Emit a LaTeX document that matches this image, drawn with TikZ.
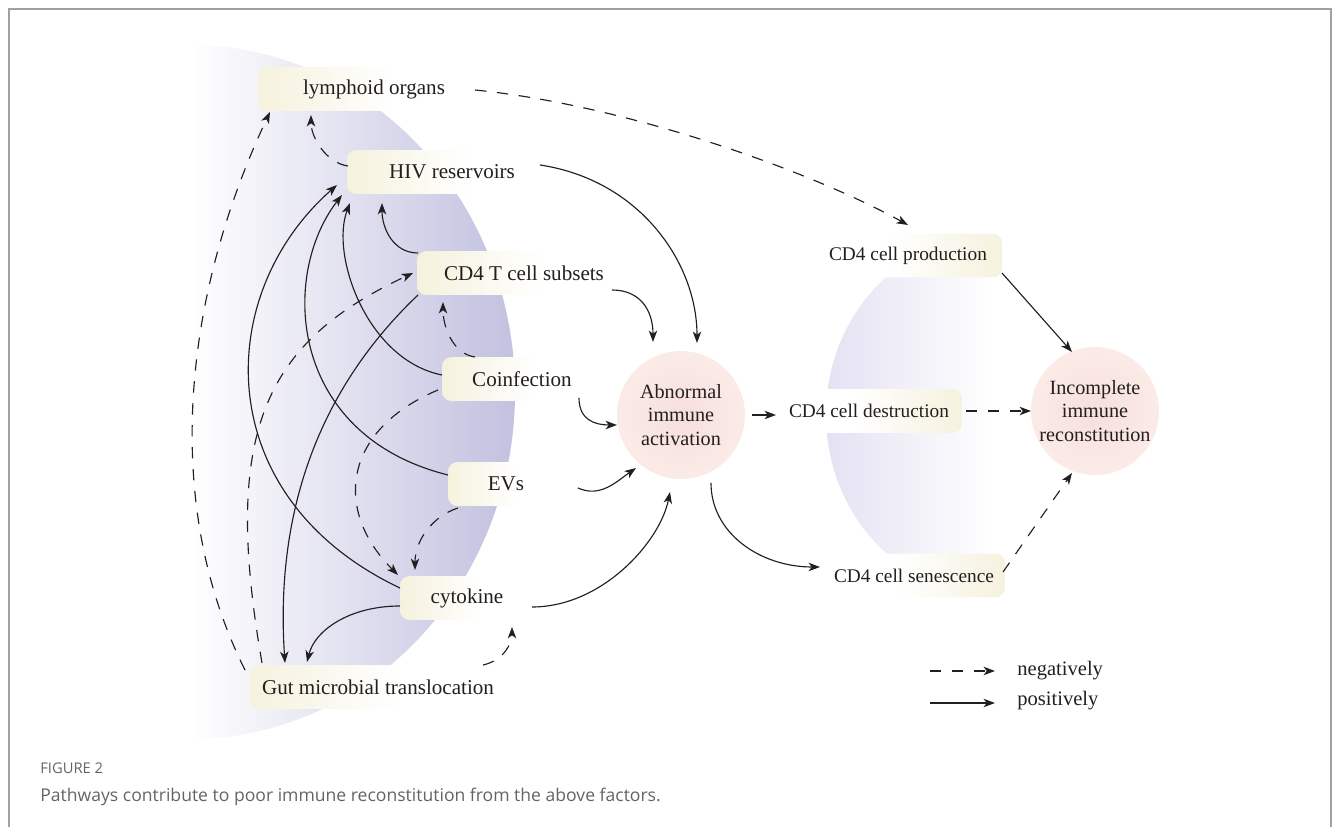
\documentclass[tikz,border=0pt]{standalone}
\usepackage{fontspec}
\setmainfont{Liberation Serif}
\newfontfamily\capfont{Open Sans}
\usetikzlibrary{arrows.meta}

\definecolor{inkc}{RGB}{35,31,32}
\definecolor{facbeige}{RGB}{241,236,207}
\definecolor{lavc}{RGB}{194,193,224}
\definecolor{lavl}{RGB}{228,226,243}
\definecolor{hubin}{RGB}{246,223,220}
\definecolor{hubout}{RGB}{251,235,231}
\definecolor{capc}{RGB}{100,100,100}
\definecolor{framec}{RGB}{160,160,160}

\pgfdeclarehorizontalshading{facfade}{100bp}{color(0bp)=(facbeige); color(12bp)=(facbeige); color(55bp)=(white); color(100bp)=(white)}
\pgfdeclarehorizontalshading{resfade}{100bp}{color(0bp)=(white); color(45bp)=(white); color(88bp)=(facbeige); color(100bp)=(facbeige)}

\begin{document}
\begin{tikzpicture}[x=0.02cm, y=-0.02cm,
	font=\fontsize{11}{13.5}\selectfont, text=inkc,
	fac/.style={rounded corners=5.5pt, shade, shading=facfade, minimum height=0.88cm, inner sep=0pt, font=\fontsize{12}{14}\selectfont},
	res/.style={fac, shading=resfade, font=\fontsize{11}{13.5}\selectfont},
	hub/.style={circle, inner color=hubin, outer color=hubout, minimum size=2.56cm, inner sep=0pt, align=center, font=\fontsize{11.5}{13.5}\selectfont},
	posarrow/.style={draw=inkc, line width=0.65pt, -{Stealth[length=6.5pt, width=4.8pt, inset=1.8pt]}},
	negarrow/.style={posarrow, dash pattern=on 6.5pt off 6pt}]
	\useasboundingbox (0,0) rectangle (1333,827);
	\draw[framec, line width=0.8pt] (9,827) -- (9,9) -- (1331,9) -- (1331,827);
	
	% backgrounds
	\shade[left color=white, right color=lavc] (190,45) arc[start angle=-90, end angle=90, x radius=325, y radius=347] -- cycle;
	\shade[left color=lavl, right color=white] (994,235) arc[start angle=-90, end angle=-270, x radius=168, y radius=180] -- cycle;
	
	% factors
	\node[fac, minimum width=4.64cm] (lym) at (374,89) {lymphoid organs};
	\node[fac, minimum width=4.2cm] (hiv) at (452,172) {HIV reservoirs};
	\node[fac, minimum width=4.28cm] (cdt) at (524,273) {CD4 T cell subsets};
	\node[fac, minimum width=3.2cm] (coi) at (522,379) {Coinfection};
	\node[fac, minimum width=2.32cm] (evs) at (506,484) {EVs};
	\node[fac, minimum width=2.68cm] (cyt) at (467,598) {cytokine};
	\node[fac, minimum width=5.12cm] (gut) at (378,687) {Gut microbial translocation};
	
	\node[hub] (abn) at (681,415) {Abnormal\\immune\\activation};
	\node[res, minimum width=3.76cm] (pro) at (908,255.5) {CD4 cell production};
	\node[res, minimum width=3.72cm] (des) at (869,411) {CD4 cell destruction};
	\node[res, minimum width=3.64cm] (sen) at (914,575.5) {CD4 cell senescence};
	\node[hub] (inc) at (1095,411) {Incomplete\\immune\\reconstitution};
	
	% positively
	\draw[posarrow] ([shift={(88,-7)}]hiv.center) .. controls +(100,15) and +(0,-80) .. ([shift={(16,-72)}]abn.center);
	\draw[posarrow] ([shift={(88,17)}]cdt.center) .. controls +(28,0) and +(0,-32) .. ([shift={(-28,-73)}]abn.center);
	\draw[posarrow] ([shift={(57,19)}]coi.center) .. controls +(0,22) and +(-22,0) .. ([shift={(-64,10)}]abn.center);
	\draw[posarrow] ([shift={(72,4)}]evs.center) .. controls +(22,10) and +(-20,14) .. ([shift={(-45,53)}]abn.center);
	\draw[posarrow] ([shift={(65,9)}]cyt.center) .. controls +(70,0) and +(-10,50) .. ([shift={(-11,77)}]abn.center);
	\draw[posarrow] ([shift={(71,0)}]abn.center) -- ([shift={(-93,4)}]des.center);
	\draw[posarrow] ([shift={(30,68)}]abn.center) .. controls +(0,50) and +(-60,0) .. ([shift={(-94,-8.5)}]sen.center);
	\draw[posarrow] ([shift={(94,17.5)}]pro.center) -- ([shift={(-23,-59)}]inc.center);
	\draw[posarrow] ([shift={(-106,-20)}]cdt.center) .. controls +(-25,0) and +(0,25) .. ([shift={(-70,31)}]hiv.center);
	\draw[posarrow] ([shift={(-80,-4)}]coi.center) .. controls +(-75,-15) and +(-20,52) .. ([shift={(-102,31)}]hiv.center);
	\draw[posarrow] ([shift={(-58,-9)}]evs.center) .. controls +(-160,-40) and +(-62,80) .. ([shift={(-110,23)}]hiv.center);
	\draw[posarrow] ([shift={(-67,-10)}]cyt.center) .. controls +(-190,-90) and +(-125,110) .. ([shift={(-115,13)}]hiv.center);
	\draw[posarrow] ([shift={(-106,22)}]cdt.center) .. controls +(-100,95) and +(-10,-150) .. ([shift={(-93,-24)}]gut.center);
	\draw[posarrow] ([shift={(-67,8)}]cyt.center) .. controls +(-50,0) and +(8,-32) .. ([shift={(-71,-25)}]gut.center);
	
	% negatively
	\draw[negarrow] ([shift={(-133,-17)}]gut.center) .. controls +(-85,-170) and +(-85,180) .. ([shift={(-104,23)}]lym.center);
	\draw[negarrow] ([shift={(-116,-24)}]gut.center) .. controls +(-40,-230) and +(-150,70) .. ([shift={(-111,0)}]cdt.center);
	\draw[negarrow] ([shift={(-84,11)}]coi.center) .. controls +(-95,40) and +(-65,-65) .. ([shift={(-69,-23)}]cyt.center);
	\draw[negarrow] ([shift={(-48,24)}]evs.center) .. controls +(-25,8) and +(0,-30) .. ([shift={(-52,-28)}]cyt.center);
	\draw[negarrow] ([shift={(-47,-22)}]coi.center) .. controls +(-22,-3) and +(0,25) .. ([shift={(-81,29)}]cdt.center);
	\draw[negarrow] ([shift={(-104,-6)}]hiv.center) .. controls +(-22,-3) and +(0,22) .. ([shift={(-63,26)}]lym.center);
	\draw[negarrow] ([shift={(105,-22)}]gut.center) .. controls +(22,-5) and +(0,15) .. ([shift={(45,29)}]cyt.center);
	\draw[negarrow] ([shift={(101,1)}]lym.center) .. controls +(150,15) and +(-100,-55) .. ([shift={(0,-30.5)}]pro.center);
	\draw[negarrow] ([shift={(97,0)}]des.center) -- ([shift={(-64,0)}]inc.center);
	\draw[negarrow] ([shift={(89,-3.5)}]sen.center) -- ([shift={(-23,62)}]inc.center);
	
	% legend
	\coordinate (negs) at (930,671);
	\coordinate (nege) at (995,671);
	\coordinate (poss) at (930,703);
	\coordinate (pose) at (995,703);
	\draw[negarrow] (negs) -- (nege);
	\draw[posarrow] (poss) -- (pose);
	\node[anchor=base west, inner sep=0pt, font=\fontsize{11.7}{14}\selectfont] (negl) at (1017,675) {negatively};
	\node[anchor=base west, inner sep=0pt, font=\fontsize{11.7}{14}\selectfont] (posl) at (1017,705) {positively};
	
	% caption
	\node[anchor=base west, inner sep=0pt, text=capc, font=\capfont\fontsize{8.4}{10}\selectfont] (figno) at (40,773) {FIGURE 2};
	\node[anchor=base west, inner sep=0pt, text=capc, font=\capfont\fontsize{10}{12}\selectfont] (figcap) at (40,801) {Pathways contribute to poor immune reconstitution from the above factors.};
\end{tikzpicture}
\end{document}
